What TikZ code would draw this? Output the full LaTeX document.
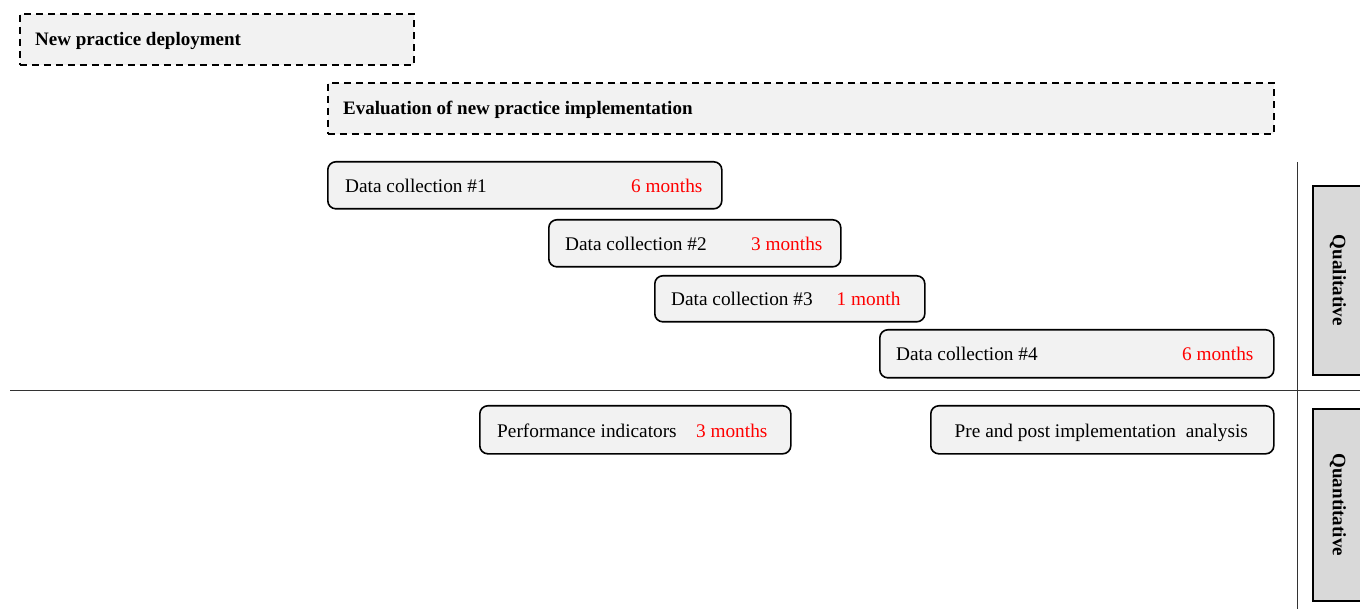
\documentclass[tikz,border=0pt]{standalone}
\usepackage{fontspec}
\setmainfont{Liberation Serif}
\definecolor{boxfill}{HTML}{F2F2F2}
\definecolor{sidefill}{HTML}{D9D9D9}
\definecolor{durred}{HTML}{FF0000}
\begin{document}
\begin{tikzpicture}[x=1pt,y=-1pt,
  phase/.style={draw, line width=1.6pt, dash pattern=on 7pt off 5pt, fill=boxfill, anchor=north west, inner sep=0pt},
  task/.style={draw, line width=1.6pt, rounded corners=8pt, fill=boxfill, anchor=north west, inner sep=0pt},
  side/.style={draw, line width=1.6pt, fill=sidefill, anchor=north west, inner sep=0pt},
  lbl/.style={font=\fontsize{19.3}{22}\selectfont, inner sep=0pt},
  blbl/.style={font=\fontsize{19}{22}\selectfont\bfseries, inner sep=0pt},
  dur/.style={lbl, text=durred},
  rule/.style={line width=1pt, draw=black!80}]
\useasboundingbox (0,0) rectangle (1360,609);
% dividing lines
\coordinate (hl) at (10,391);
\coordinate (hr) at (1360,391);
\coordinate (vt) at (1297,162);
\coordinate (vb) at (1297,609);
\draw[rule] (hl) -- (hr);
\draw[rule] (vt) -- (vb);
% phases
\node[phase, minimum width=394pt, minimum height=51pt] (dep) at (19,13) {};
\node[blbl, anchor=west] (deplbl) at ([xshift=16pt,yshift=-2pt]dep.west) {New practice deployment};
\node[phase, minimum width=946pt, minimum height=51pt] (eval) at (327,82) {};
\node[blbl, anchor=west] (evallbl) at ([xshift=16pt,yshift=-2pt]eval.west) {Evaluation of new practice implementation};
% data collections
\node[task, minimum width=394pt, minimum height=47pt] (dc1) at (327,161) {};
\node[lbl, anchor=west] (dc1a) at ([xshift=18pt,yshift=-1pt]dc1.west) {Data collection \#1};
\node[dur, anchor=east] (dc1b) at ([xshift=-20pt,yshift=-1pt]dc1.east) {6 months};
\node[task, minimum width=292pt, minimum height=47pt] (dc2) at (548,219) {};
\node[lbl, anchor=west] (dc2a) at ([xshift=17pt,yshift=-1pt]dc2.west) {Data collection \#2};
\node[dur, anchor=east] (dc2b) at ([xshift=-19pt,yshift=-1pt]dc2.east) {3 months};
\node[task, minimum width=270pt, minimum height=46pt] (dc3) at (654,275) {};
\node[lbl, anchor=west] (dc3a) at ([xshift=17pt]dc3.west) {Data collection \#3};
\node[dur, anchor=east] (dc3b) at ([xshift=-25pt]dc3.east) {1 month};
\node[task, minimum width=394pt, minimum height=48pt] (dc4) at (879,329) {};
\node[lbl, anchor=west] (dc4a) at ([xshift=17pt]dc4.west) {Data collection \#4};
\node[dur, anchor=east] (dc4b) at ([xshift=-21pt]dc4.east) {6 months};
% quantitative tasks
\node[task, minimum width=311pt, minimum height=48pt] (perf) at (479,405) {};
\node[lbl, anchor=west] (perfa) at ([xshift=18pt,yshift=-1pt]perf.west) {Performance indicators};
\node[dur, anchor=east] (perfb) at ([xshift=-24pt,yshift=-1pt]perf.east) {3 months};
\node[task, minimum width=343pt, minimum height=48pt] (pre) at (930,405) {};
\node[lbl] (prea) at ([xshift=-1pt,yshift=-3pt]pre.center) {Pre and post implementation\ \ analysis};
% side labels
\node[side, minimum width=52pt, minimum height=189pt] (qual) at (1312,185) {};
\node[blbl, rotate=-90] (quallbl) at ([xshift=-1pt]qual.center) {Qualitative};
\node[side, minimum width=52pt, minimum height=192pt] (quan) at (1312,408) {};
\node[blbl, rotate=-90] (quanlbl) at ([xshift=-1pt]quan.center) {Quantitative};
\end{tikzpicture}
\end{document}
